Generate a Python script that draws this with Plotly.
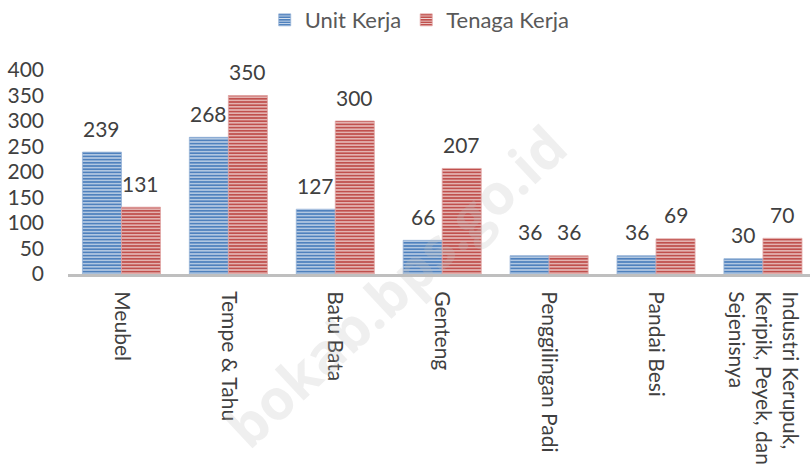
import plotly.graph_objects as go

categories = ["Meubel", "Tempe & Tahu", "Batu Bata", "Genteng", "Penggilingan Padi",
              "Pandai Besi", "Industri Kerupuk,<br>Keripik, Peyek, dan<br>Sejenisnya"]
unit_kerja = [239, 268, 127, 66, 36, 36, 30]
tenaga_kerja = [131, 350, 300, 207, 36, 69, 70]
y_ticks = [0, 50, 100, 150, 200, 250, 300, 350, 400]
watermark = "bokab.bps.go.id"

FONT = "Lato"
BLUE = "#4f81bd"
RED = "#c0504d"

W, H = 810, 476
ML, MR, MT, MB = 68, 0, 70, 202
BARGAP = 0.27
X_RANGE = [-0.5, 6.44]

fig = go.Figure()
fig.add_trace(go.Bar(
    name="Unit Kerja", x=categories, y=unit_kerja,
    marker=dict(color=BLUE, line=dict(color="#95b3d7", width=0.8),
                pattern=dict(shape="-", size=3.2, solidity=0.35, fgcolor="#dbe5f1",
                             fgopacity=1, fillmode="overlay")),
))
fig.add_trace(go.Bar(
    name="Tenaga Kerja", x=categories, y=tenaga_kerja,
    marker=dict(color=RED, line=dict(color="#e0a3a2", width=0.8),
                pattern=dict(shape="-", size=3.2, solidity=0.35, fgcolor="#f2dcdb",
                             fgopacity=1, fillmode="overlay")),
))

# data labels
cat_px = (W - ML - MR) / (X_RANGE[1] - X_RANGE[0])
half_bar = cat_px * (1 - BARGAP) / 4
annotations = []
for c, u, t in zip(categories, unit_kerja, tenaga_kerja):
    for val, sh in ((u, -half_bar), (t, half_bar)):
        annotations.append(dict(
            x=c, y=val, xref="x", yref="y", text=str(val), showarrow=False,
            xshift=sh, yshift=24, yanchor="middle", xanchor="center",
            font=dict(family=FONT, size=21, color="#404040")))

annotations.append(dict(
    x=0.441, y=-0.054, xref="paper", yref="paper", text="<b>" + watermark + "</b>",
    showarrow=False, textangle=-43, xanchor="center", yanchor="middle",
    font=dict(family="Open Sans", size=56, color="rgba(190,190,190,0.25)")))

fig.update_layout(
    width=W, height=H,
    margin=dict(l=ML, r=MR, t=MT, b=MB, pad=0, autoexpand=False),
    paper_bgcolor="white", plot_bgcolor="white",
    barmode="group", bargap=BARGAP, bargroupgap=0,
    font=dict(family=FONT, color="#595959"),
    showlegend=True,
    legend=dict(orientation="h", x=0.474, xanchor="center", y=1.245, yanchor="middle",
                font=dict(family=FONT, size=22, color="#595959"),
                itemwidth=30, tracegroupgap=0),
    annotations=annotations,
    xaxis=dict(range=X_RANGE, showline=True, linecolor="#bfbfbf", linewidth=3, ticks="",
               tickangle=90, tickfont=dict(family=FONT, size=21, color="#404040"),
               ticklabelstandoff=10, showgrid=False, zeroline=False, automargin=False),
    yaxis=dict(range=[0, 400], tickvals=y_ticks, showgrid=False, zeroline=False,
               showline=False, ticks="", ticklabelstandoff=23, automargin=False,
               tickfont=dict(family=FONT, size=21, color="#404040")),
)

# remove the browser's default 8px body margin so the figure fills the window exactly
fig.write_html("out.html", config={"displayModeBar": False},
               post_script="document.body.style.margin='0';document.body.style.overflow='hidden';")
